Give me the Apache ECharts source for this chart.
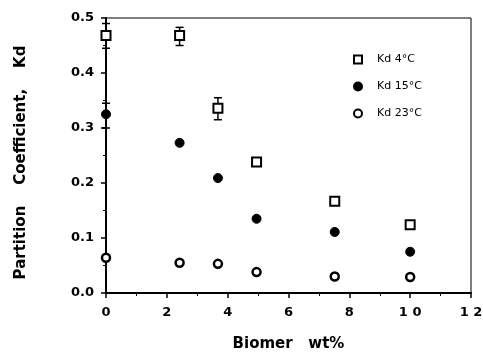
<!DOCTYPE html>
<html><head><meta charset="utf-8">
<script src="https://cdn.jsdelivr.net/npm/echarts@6/dist/echarts.min.js"></script>
<style>html,body{margin:0;padding:0;background:#fff}#c{width:483px;height:352px}</style>
</head><body><div id="c"></div>
<script>
var biomer = [0, 2.42, 3.68, 4.95, 7.52, 10.0];
var kd4 = [0.468, 0.468, 0.336, 0.238, 0.167, 0.124];
var kd15 = [0.325, 0.273, 0.209, 0.135, 0.111, 0.075];
var kd23 = [0.064, 0.055, 0.053, 0.038, 0.030, 0.029];
var err4Low = [0.445, 0.450, 0.315, null, null, null];
var err4High = [0.490, 0.483, 0.355, null, null, null];
var err15Low = [0.300, null, null, null, null, null];
var err15High = [0.345, null, null, null, null, null];
var xTickLabels = {0:'0', 2:'2', 4:'4', 6:'6', 8:'8', 10:'1 0', 12:'1 2'};

function pts(ys){ return biomer.map(function(x,i){ return [x, ys[i]]; }); }
function errs(lo, hi){
  var out = [];
  biomer.forEach(function(x,i){ if (lo[i] != null) out.push([x, lo[i], hi[i]]); });
  return out;
}
var fontFam = '"DejaVu Sans", sans-serif';
var chart = echarts.init(document.getElementById('c'));
function errSeries(data){
  return {
    type: 'custom', data: data, z: 1, silent: true,
    renderItem: function(params, api){
      var x = api.value(0);
      var lo = api.coord([x, api.value(1)]);
      var hi = api.coord([x, api.value(2)]);
      var w = 4;
      var st = {stroke:'#000', lineWidth:1.5};
      return {type:'group', children:[
        {type:'line', shape:{x1:lo[0],y1:lo[1],x2:hi[0],y2:hi[1]}, style:st},
        {type:'line', shape:{x1:lo[0]-w,y1:lo[1],x2:lo[0]+w,y2:lo[1]}, style:st},
        {type:'line', shape:{x1:hi[0]-w,y1:hi[1],x2:hi[0]+w,y2:hi[1]}, style:st}
      ]};
    }
  };
}
chart.setOption({
  animation: false,
  backgroundColor: '#fff',
  grid: {left: 106, right: 12, top: 18, bottom: 59, show: true, borderColor: '#000', borderWidth: 1,
    containLabel: false, outerBoundsMode: 'none'},
  legend: {
    orient: 'vertical', left: 348, top: 48, itemGap: 14, itemWidth: 8, itemHeight: 8,
    textStyle: {fontFamily: fontFam, fontSize: 11, color: '#000', lineHeight: 13, padding: [0,0,0,10]},
    data: ['Kd 4°C', 'Kd 15°C', 'Kd 23°C']
  },
  xAxis: {
    type: 'value', min: 0, max: 12, interval: 2,
    name: 'Biomer   wt%', nameLocation: 'middle', nameGap: 44,
    nameTextStyle: {fontFamily: fontFam, fontSize: 15, fontWeight: 'bold', color: '#000'},
    axisLine: {show: true, lineStyle: {color: '#000', width: 2}},
    axisTick: {show: true, inside: false, length: 5, lineStyle: {color: '#000', width: 1.5}},
    minorTick: {show: true, splitNumber: 2, length: 3, lineStyle: {color: '#000'}},
    splitLine: {show: false},
    axisLabel: {fontFamily: fontFam, fontSize: 13, fontWeight: 'bold', color: '#000', margin: 13,
      formatter: function(v){ return xTickLabels[v] != null ? xTickLabels[v] : ''; }}
  },
  yAxis: {
    type: 'value', min: 0, max: 0.5, interval: 0.1,
    name: 'Partition    Coefficient,    Kd', nameLocation: 'middle', nameGap: 77,
    nameTextStyle: {fontFamily: fontFam, fontSize: 15, fontWeight: 'bold', color: '#000', padding: [0, 14, 0, 0]},
    axisLine: {show: true, lineStyle: {color: '#000', width: 2}},
    axisTick: {show: true, inside: false, length: 5, lineStyle: {color: '#000', width: 1.5}},
    minorTick: {show: true, splitNumber: 2, length: 3, lineStyle: {color: '#000'}},
    splitLine: {show: false},
    axisLabel: {fontFamily: fontFam, fontSize: 13, fontWeight: 'bold', color: '#000', margin: 12,
      formatter: function(v){ return v.toFixed(1); }}
  },
  series: [
    errSeries(errs(err4Low, err4High)),
    errSeries(errs(err15Low, err15High)),
    {name: 'Kd 4°C', type: 'scatter', data: pts(kd4), symbol: 'rect', symbolSize: 9, z: 3,
      itemStyle: {color: '#fff', borderColor: '#000', borderWidth: 2, opacity: 1}},
    {name: 'Kd 15°C', type: 'scatter', data: pts(kd15), symbol: 'circle', symbolSize: 9, z: 3,
      itemStyle: {color: '#000', borderColor: '#000', borderWidth: 1, opacity: 1}},
    {name: 'Kd 23°C', type: 'scatter', data: pts(kd23), symbol: 'circle', symbolSize: 8, z: 3,
      itemStyle: {color: '#fff', borderColor: '#000', borderWidth: 2.5, opacity: 1}}
  ]
});
</script></body></html>
